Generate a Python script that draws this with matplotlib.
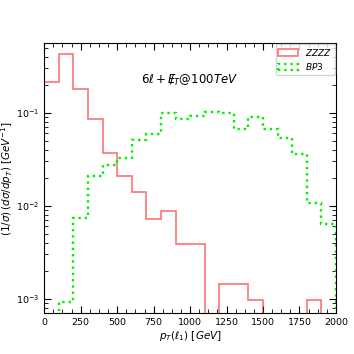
import numpy as np
import matplotlib
matplotlib.use("Agg")
import matplotlib.pyplot as plt
from matplotlib.ticker import AutoMinorLocator, MultipleLocator

bin_edges = np.arange(0, 2001, 100)
bin_centers = bin_edges[:-1] + 50

zzzz = [0.212, 0.425, 0.179, 0.085, 0.0369, 0.0210, 0.0139, 0.0072, 0.0087, 0.00387,
        0.00387, 0.0, 0.00144, 0.00144, 0.00097, 0.0, 0.0, 0.0, 0.00097, 0.0]
bp3 = [0.0, 0.000915, 0.0074, 0.0209, 0.0274, 0.0328, 0.0508, 0.0594, 0.0985, 0.085,
       0.092, 0.1026, 0.0985, 0.0668, 0.0906, 0.0665, 0.0535, 0.0362, 0.0108, 0.00635]

fig = plt.figure(figsize=(3.54, 3.54), dpi=100)
ax = fig.add_axes([0.125, 0.115, 0.824, 0.763])

ax.hist(bin_centers, bins=bin_edges, weights=zzzz, histtype='step',
        color='red', alpha=0.55, lw=1.2, label='$ZZZZ$')
ax.hist(bin_centers, bins=bin_edges, weights=bp3, histtype='step',
        color='#00ee00', ls=':', lw=1.7, label='$BP3$')

ax.set_yscale('log')
ax.set_xlim(0, 2000)
ax.set_ylim(7.0e-4, 0.557)
ax.xaxis.set_major_locator(MultipleLocator(250))
ax.xaxis.set_minor_locator(AutoMinorLocator(4))
ax.tick_params(which='both', direction='in', top=True, right=True, labelsize=6.8)
ax.tick_params(which='major', length=5)
ax.tick_params(which='minor', length=3)

ax.set_xlabel(r'$p_T(\ell_1)$ [$GeV$]', fontsize=7.5, labelpad=1)
ax.set_ylabel(r'$(1/\sigma)\,(d\sigma/dp_T)$ [$GeV^{-1}$]', fontsize=7.5, labelpad=1)

ax.text(0.50, 0.862, r'$6\ell+E\!\!\!/_T$@$100TeV$', transform=ax.transAxes,
        fontsize=8.5, ha='center', va='center')

ax.legend(loc='upper right', fontsize=6.5, borderaxespad=0.1, handlelength=2.2,
          handleheight=0.7, labelspacing=0.4, borderpad=0.3, handletextpad=0.8)

fig.savefig('out.png', dpi=100)
